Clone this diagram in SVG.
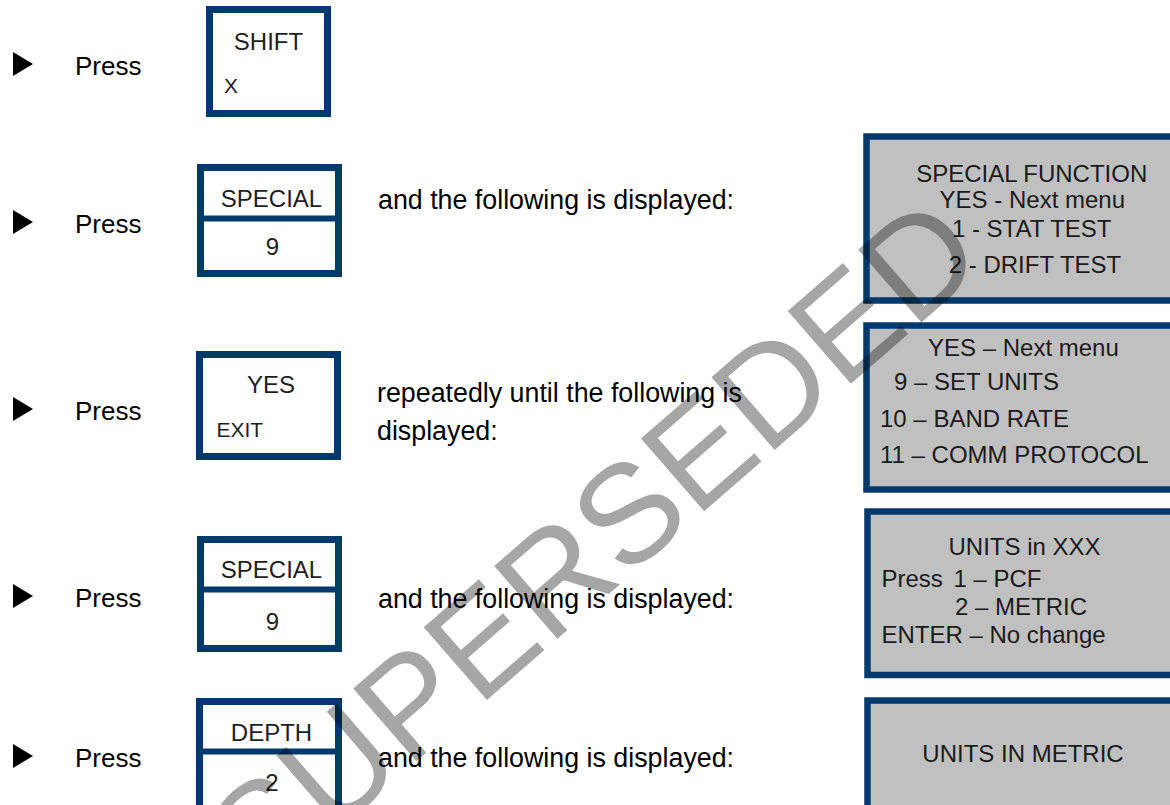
<svg xmlns="http://www.w3.org/2000/svg" width="1170" height="805" viewBox="0 0 1170 805">
<style>
.bg{fill:#ffffff}
.key{fill:#ffffff;stroke:#03396c;stroke-width:7}
.div{stroke:#03396c;stroke-width:6}
.disp{fill:#c0c0c0;stroke:#03396c;stroke-width:6.5}
.main{font-family:"Liberation Sans",Arial,sans-serif;font-size:26px;fill:#000}
.long{font-family:"Liberation Sans",Arial,sans-serif;font-size:26.8px;fill:#000}
.klab{font-family:"Liberation Sans",Arial,sans-serif;font-size:24px;fill:#1e1e1e}
.ksm{font-family:"Liberation Sans",Arial,sans-serif;font-size:21px;fill:#1e1e1e}
.dtxt{font-family:"Liberation Sans",Arial,sans-serif;font-size:24px;fill:#1a1a1a}
.mid{text-anchor:middle}
.tri{fill:#000}
.wm{font-family:"Liberation Sans",Arial,sans-serif;font-size:140px;fill:#000;fill-opacity:0.35;text-anchor:middle}
</style>
<rect class="bg" x="0" y="0" width="1170" height="805"/>

<g id="step1">
<polygon class="tri" points="13,52 33,64 13,76"/>
<text class="main" x="75" y="75">Press</text>
</g>
<g id="key-shift">
<rect class="key" x="209.5" y="9.5" width="118" height="104"/>
<text class="klab mid" x="268.5" y="50">SHIFT</text>
<text class="ksm" x="224" y="93">X</text>
</g>

<g id="step2">
<polygon class="tri" points="13,210 33,222 13,234"/>
<text class="main" x="75" y="233">Press</text>
<text class="long" x="378" y="209">and the following is displayed:</text>
</g>
<g id="key-special-1">
<rect class="key" x="200.5" y="167.5" width="138" height="106"/>
<line class="div" x1="197" y1="218.5" x2="342" y2="218.5"/>
<text class="klab mid" x="271.5" y="207">SPECIAL</text>
<text class="klab mid" x="272.5" y="255">9</text>
</g>
<g id="display-1">
<rect class="disp" x="866.5" y="136.5" width="330" height="164"/>
<text class="dtxt mid" x="1031.7" y="181.5">SPECIAL FUNCTION</text>
<text class="dtxt mid" x="1032.3" y="208">YES - Next menu</text>
<text class="dtxt mid" x="1031.7" y="236.5">1 - STAT TEST</text>
<text class="dtxt mid" x="1035" y="272.5">2 - DRIFT TEST</text>
</g>

<g id="step3">
<polygon class="tri" points="13,397 33,409 13,421"/>
<text class="main" x="75" y="420">Press</text>
<text class="long" x="377" y="401.5">repeatedly until the following is</text>
<text class="long" x="377" y="440">displayed:</text>
</g>
<g id="key-yes">
<rect class="key" x="199.5" y="354.5" width="138" height="102"/>
<text class="klab mid" x="271" y="393">YES</text>
<text class="ksm" x="216.5" y="437">EXIT</text>
</g>
<g id="display-2">
<rect class="disp" x="866.5" y="325.5" width="330" height="164"/>
<text class="dtxt" x="928" y="355.5">YES – Next menu</text>
<text class="dtxt" x="894" y="390">9 – SET UNITS</text>
<text class="dtxt" x="880" y="426.5">10 – BAND RATE</text>
<text class="dtxt" x="880" y="463">11 – COMM PROTOCOL</text>
</g>

<g id="step4">
<polygon class="tri" points="13,584 33,596 13,608"/>
<text class="main" x="75" y="607">Press</text>
<text class="long" x="378" y="608">and the following is displayed:</text>
</g>
<g id="key-special-2">
<rect class="key" x="200.5" y="539.5" width="138" height="109"/>
<line class="div" x1="197" y1="589.5" x2="342" y2="589.5"/>
<text class="klab mid" x="271.5" y="578">SPECIAL</text>
<text class="klab mid" x="272.5" y="630">9</text>
</g>
<g id="display-3">
<rect class="disp" x="867.5" y="511.5" width="330" height="163.5"/>
<text class="dtxt mid" x="1024.5" y="555">UNITS in XXX</text>
<text class="dtxt" x="881.5" y="586.5">Press <tspan x="953.4">1 – PCF</tspan></text>
<text class="dtxt" x="955" y="615">2 – METRIC</text>
<text class="dtxt" x="881.5" y="643">ENTER – No change</text>
</g>

<g id="step5">
<polygon class="tri" points="13,744 33,756 13,768"/>
<text class="main" x="75" y="767">Press</text>
<text class="long" x="378" y="767">and the following is displayed:</text>
</g>
<g id="key-depth">
<rect class="key" x="199.5" y="701.5" width="139" height="130"/>
<line class="div" x1="196" y1="751.5" x2="342" y2="751.5"/>
<text class="klab mid" x="271.5" y="740.5">DEPTH</text>
<text class="klab mid" x="272" y="791">2</text>
</g>
<g id="display-4">
<rect class="disp" x="867.5" y="700.5" width="330" height="150"/>
<text class="dtxt mid" x="1023" y="761.5">UNITS IN METRIC</text>
</g>

<g id="connectors"></g>

<g id="watermark">
<text class="wm" transform="translate(625,580) rotate(-41)">SUPERSEDED</text>
</g>
</svg>
